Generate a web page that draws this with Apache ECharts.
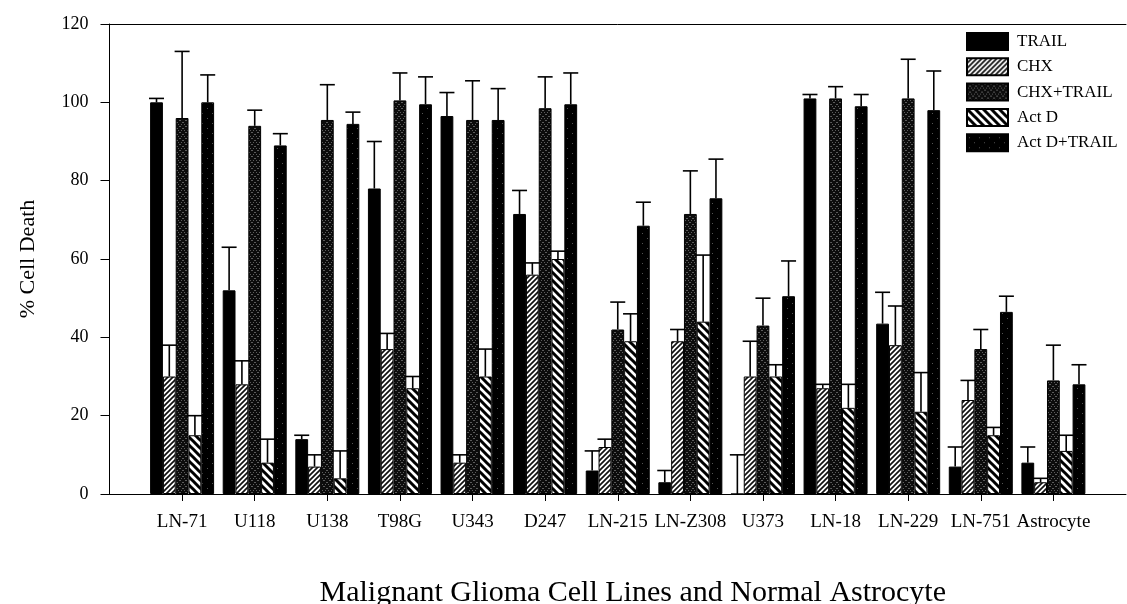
<!DOCTYPE html>
<html>
<head>
<meta charset="utf-8" />
<script src="https://cdn.jsdelivr.net/npm/echarts@6/dist/echarts.min.js"></script>
<style>
  html, body { margin: 0; padding: 0; background: #fff; }
  #main { width: 1127px; height: 604px; }
</style>
</head>
<body>
<div id="main"></div>
<script type="text/javascript">
	// 细胞系
	var categories = ['LN-71', 'U118', 'U138', 'T98G', 'U343', 'D247', 'LN-215', 'LN-Z308', 'U373', 'LN-18', 'LN-229', 'LN-751', 'Astrocyte'];
	var seriesNames = ['TRAIL', 'CHX', 'CHX+TRAIL', 'Act D', 'Act D+TRAIL'];

	// % Cell Death (mean) and upper error
	var trail = [100, 52, 14, 78, 96.5, 71.5, 6, 3, 0, 101, 43.5, 7, 8];
	var trailErr = [1, 11, 1, 12, 6, 6, 5, 3, 10, 1, 8, 5, 4];
	var chx = [30, 28, 7, 37, 8, 56, 12, 39, 30, 27, 38, 24, 3];
	var chxErr = [8, 6, 3, 4, 2, 3, 2, 3, 9, 1, 10, 5, 1];
	var chxTrail = [96, 94, 95.5, 100.5, 95.5, 98.5, 42, 71.5, 43, 101, 101, 37, 29];
	var chxTrailErr = [17, 4, 9, 7, 10, 8, 7, 11, 7, 3, 10, 5, 9];
	var actD = [15, 8, 4, 27, 30, 60, 39, 44, 30, 22, 21, 15, 11];
	var actDErr = [5, 6, 7, 3, 7, 2, 7, 17, 3, 6, 10, 2, 4];
	var actDTrail = [100, 89, 94.5, 99.5, 95.5, 99.5, 68.5, 75.5, 50.5, 99, 98, 46.5, 28];
	var actDTrailErr = [7, 3, 3, 7, 8, 8, 6, 10, 9, 3, 10, 4, 5];

	var yTicks = [0, 20, 40, 60, 80, 100, 120];

	var values = [trail, chx, chxTrail, actD, actDTrail];
	var errors = [trailErr, chxErr, chxTrailErr, actDErr, actDTrailErr];

	var FONT = '"Liberation Serif", "DejaVu Serif", serif';
	var BAR_W = 12.8;

	// 填充图案
	function makePattern(size, bg, draw) {
		var c = document.createElement('canvas');
		c.width = size; c.height = size;
		var ctx = c.getContext('2d');
		ctx.fillStyle = bg;
		ctx.fillRect(0, 0, size, size);
		draw(ctx, size);
		return { image: c, repeat: 'repeat' };
	}
	function slash(ctx, s, w, color, back) {
		ctx.strokeStyle = color;
		ctx.lineWidth = w;
		ctx.beginPath();
		if (back) {
			ctx.moveTo(-s / 2, s / 2); ctx.lineTo(s / 2, 3 * s / 2);
			ctx.moveTo(0, 0); ctx.lineTo(s, s);
			ctx.moveTo(s / 2, -s / 2); ctx.lineTo(3 * s / 2, s / 2);
		} else {
			ctx.moveTo(-s / 2, s / 2); ctx.lineTo(s / 2, -s / 2);
			ctx.moveTo(0, s); ctx.lineTo(s, 0);
			ctx.moveTo(s / 2, 3 * s / 2); ctx.lineTo(3 * s / 2, s / 2);
		}
		ctx.stroke();
	}
	var fills = [
		'#000',
		makePattern(5, '#fff', function (ctx, s) { slash(ctx, s, 1.7, '#111', false); }),
		makePattern(6, '#0c0c0c', function (ctx, s) {
			ctx.fillStyle = '#5c5c5c';
			for (var i = 0; i < s; i += 2) {
				ctx.fillRect(i, i, 1, 1);
				ctx.fillRect(s - 1 - i, i, 1, 1);
			}
		}),
		makePattern(8, '#fff', function (ctx, s) { slash(ctx, s, 3, '#000', true); }),
		makePattern(10, '#000', function (ctx) {
			ctx.fillStyle = '#555';
			ctx.fillRect(2, 3, 1, 1);
			ctx.fillRect(7, 8, 1, 1);
		})
	];

	// 两端留空
	var axisData = [''].concat(categories, ['']);

	var series = [];
	values.forEach(function (vals, s) {
		series.push({
			name: seriesNames[s],
			type: 'bar',
			barWidth: BAR_W,
			barGap: '0%',
			itemStyle: { color: fills[s], borderColor: '#000', borderWidth: 1 },
			emphasis: { disabled: true },
			data: [null].concat(vals, [null])
		});
	});

	// 误差线
	var errData = [];
	values.forEach(function (vals, s) {
		vals.forEach(function (v, i) {
			errData.push([i + 1, v, errors[s][i], s]);
		});
	});
	series.push({
		name: 'err',
		type: 'custom',
		z: 5,
		silent: true,
		encode: { x: 0, y: 1 },
		renderItem: function (params, api) {
			var idx = api.value(0);
			var v = api.value(1);
			var e = api.value(2);
			var s = api.value(3);
			var p0 = api.coord([idx, v]);
			var p1 = api.coord([idx, v + e]);
			var x = p0[0] + (s - 2) * BAR_W;
			var half = 7.5;
			var st = { stroke: '#000', lineWidth: 1.6 };
			return {
				type: 'group',
				children: [
					{ type: 'line', shape: { x1: x, y1: p0[1], x2: x, y2: p1[1] }, style: st },
					{ type: 'line', shape: { x1: x - half, y1: p1[1], x2: x + half, y2: p1[1] }, style: st }
				]
			};
		},
		data: errData
	});

	var myChart = echarts.init(document.getElementById('main'));
	var option = {
		animation: false,
		backgroundColor: '#fff',
		textStyle: { fontFamily: FONT, color: '#000' },
		grid: { left: 109.5, right: 1, top: 24, bottom: 110, containLabel: false, outerBoundsMode: 'none' },
		legend: {
			data: seriesNames,
			orient: 'vertical',
			left: 966,
			top: 32,
			padding: 0,
			itemWidth: 41,
			itemHeight: 17,
			itemGap: 6.3,
			icon: 'rect',
			selectedMode: false,
			textStyle: { fontFamily: FONT, fontSize: 17, color: '#000', padding: [0, 0, 0, 4] }
		},
		xAxis: [{
			type: 'category',
			data: axisData,
			boundaryGap: false,
			axisLine: { lineStyle: { color: '#000', width: 1 } },
			axisTick: {
				length: 7,
				lineStyle: { color: '#000' },
				interval: function (index) { return index > 0 && index < axisData.length - 1; }
			},
			axisLabel: { interval: 0, margin: 19, fontFamily: FONT, fontSize: 19, color: '#000' },
			name: 'Malignant Glioma Cell Lines and Normal Astrocyte',
			nameLocation: 'middle',
			nameGap: 84,
			nameTextStyle: { fontFamily: FONT, fontSize: 30, color: '#000', padding: [0, 0, 0, 30] }
		}, {
			type: 'category',
			position: 'top',
			data: axisData,
			boundaryGap: false,
			axisLine: { lineStyle: { color: '#000', width: 1 } },
			axisTick: { show: false },
			axisLabel: { show: false }
		}],
		yAxis: {
			type: 'value',
			min: yTicks[0],
			max: yTicks[yTicks.length - 1],
			interval: 20,
			axisLine: { show: true, lineStyle: { color: '#000', width: 1 } },
			axisTick: { show: true, length: 9, lineStyle: { color: '#000' } },
			splitLine: { show: false },
			axisLabel: { margin: 21, fontFamily: FONT, fontSize: 18, color: '#000' },
			name: '% Cell Death',
			nameLocation: 'middle',
			nameGap: 70,
			nameTextStyle: { fontFamily: FONT, fontSize: 22, color: '#000' }
		},
		series: series
	};
	myChart.setOption(option);
</script>
</body>
</html>
